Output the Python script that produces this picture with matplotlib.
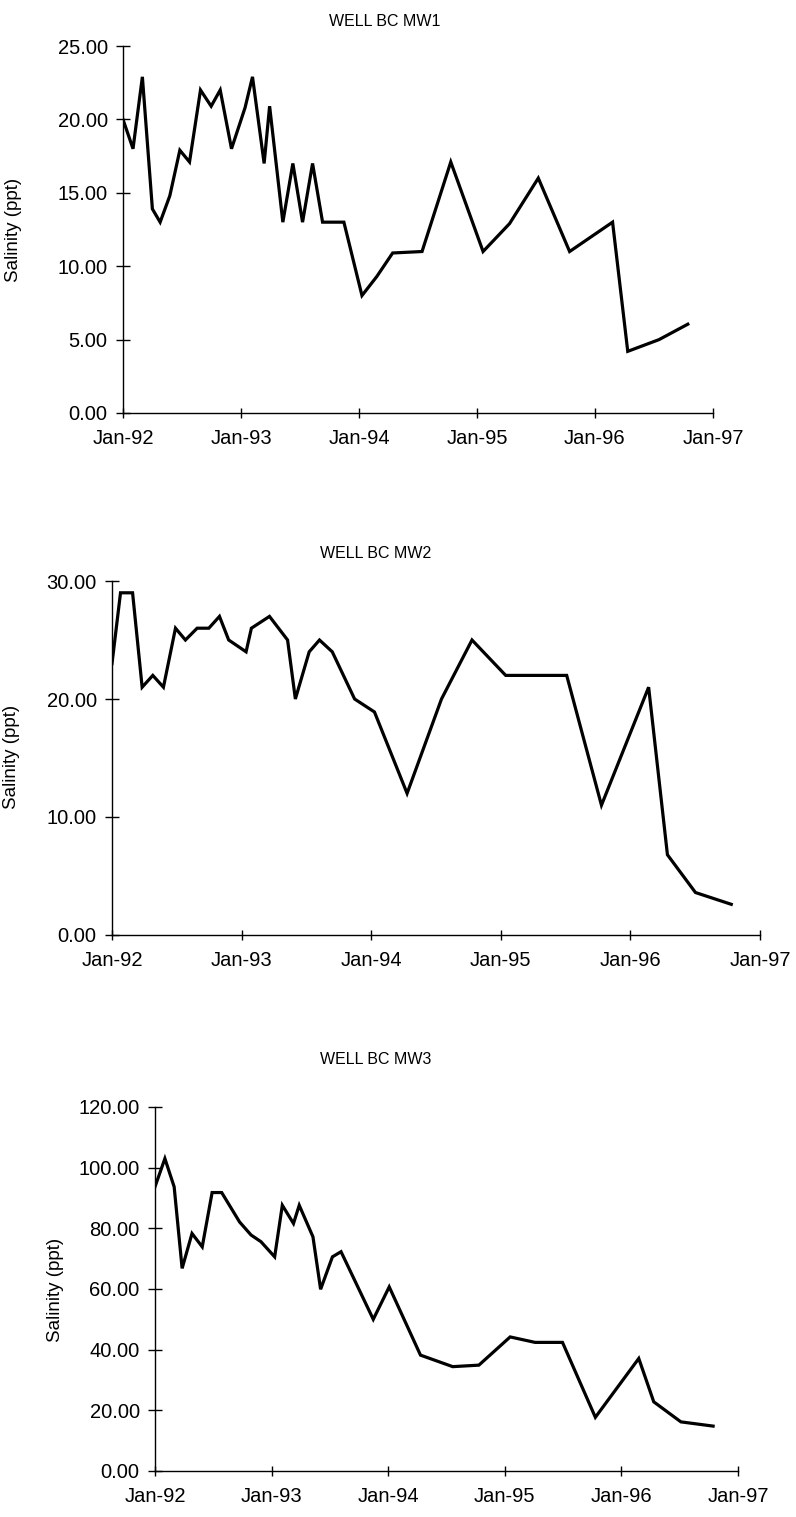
import numpy as np
import pandas as pd
import matplotlib
matplotlib.use("Agg")
import matplotlib.pyplot as plt
import matplotlib.dates as mdates
from matplotlib.ticker import FormatStrFormatter

plt.rcParams['font.family'] = ['Liberation Sans', 'DejaVu Sans']

# sampling dates and salinity (ppt)
mw1_dates = ['1992-01-01', '1992-02-01', '1992-03-01', '1992-04-01', '1992-04-25',
             '1992-05-25', '1992-06-25', '1992-07-25', '1992-08-28', '1992-09-30',
             '1992-10-28', '1992-12-02', '1993-01-13', '1993-02-05', '1993-03-13',
             '1993-03-30', '1993-05-10', '1993-06-10', '1993-07-10', '1993-08-10',
             '1993-09-10', '1993-11-15', '1994-01-10', '1994-02-25', '1994-04-15',
             '1994-07-15', '1994-10-12', '1995-01-20', '1995-04-12', '1995-07-10',
             '1995-10-15', '1996-02-25', '1996-04-12', '1996-07-18', '1996-10-15']
mw1_sal = [20.0, 18.0, 22.9, 13.9, 13.0, 14.8, 17.9, 17.1, 22.0, 20.9,
           22.0, 18.0, 20.8, 22.9, 17.0, 20.9, 13.0, 17.0, 13.0, 17.0,
           13.0, 13.0, 8.0, 9.3, 10.9, 11.0, 17.1, 11.0, 12.9, 16.0,
           11.0, 13.0, 4.2, 5.0, 6.05]

mw2_dates = ['1992-01-01', '1992-01-25', '1992-02-28', '1992-03-26', '1992-04-25',
             '1992-05-25', '1992-06-28', '1992-07-26', '1992-08-28', '1992-09-30',
             '1992-10-30', '1992-11-25', '1993-01-13', '1993-01-28', '1993-03-20',
             '1993-05-10', '1993-06-01', '1993-07-10', '1993-08-08', '1993-09-13',
             '1993-11-15', '1994-01-10', '1994-04-12', '1994-07-18', '1994-10-12',
             '1995-01-15', '1995-07-06', '1995-10-12', '1996-02-22', '1996-04-15',
             '1996-07-03', '1996-10-12']
mw2_sal = [23.0, 29.0, 29.0, 21.0, 22.0, 21.0, 26.0, 25.0, 26.0, 26.0,
           27.0, 25.0, 24.0, 26.0, 27.0, 25.0, 20.0, 24.0, 25.0, 24.0,
           20.0, 18.9, 12.0, 20.0, 25.0, 22.0, 22.0, 11.0, 21.0, 6.8,
           3.6, 2.6]

mw3_dates = ['1992-01-01', '1992-02-01', '1992-03-01', '1992-03-26', '1992-04-26',
             '1992-05-28', '1992-06-28', '1992-07-28', '1992-09-22', '1992-10-28',
             '1992-11-28', '1993-01-10', '1993-02-03', '1993-03-10', '1993-03-28',
             '1993-05-10', '1993-06-03', '1993-07-10', '1993-08-06', '1993-11-15',
             '1994-01-04', '1994-04-12', '1994-07-22', '1994-10-12', '1995-01-18',
             '1995-04-06', '1995-07-01', '1995-10-12', '1996-02-25', '1996-04-12',
             '1996-07-06', '1996-10-15']
mw3_sal = [93.7, 103.0, 93.7, 66.8, 78.3, 73.9, 91.8, 91.8, 82.1, 77.8,
           75.6, 70.6, 87.6, 81.6, 87.6, 77.2, 59.9, 70.6, 72.3, 50.0,
           60.7, 38.2, 34.4, 34.9, 44.2, 42.4, 42.4, 17.7, 37.1, 22.8,
           16.2, 14.8]

titles = ['WELL BC MW1', 'WELL BC MW2', 'WELL BC MW3']
ymax = [25, 30, 120]
ystep = [5, 10, 20]

W, H = 796, 1517
fig = plt.figure(figsize=(W / 100, H / 100), dpi=100)

# axes boxes in pixels: left, right, top, bottom
boxes = [(123, 713, 46, 413), (112, 760, 581, 935), (155, 738, 1107, 1471)]
title_pos = [(385, 22), (376, 553), (376, 1060)]
ylab_pos = [(14, 230), (12, 757), (56, 1290)]

series = [(mw1_dates, mw1_sal), (mw2_dates, mw2_sal), (mw3_dates, mw3_sal)]

for i, (d, s) in enumerate(series):
    l, r, t, b = boxes[i]
    ax = fig.add_axes([l / W, 1 - b / H, (r - l) / W, (b - t) / H])
    ax.plot(pd.to_datetime(d), s, color='black', lw=2.3, solid_joinstyle='miter')
    ax.set_xlim(pd.Timestamp('1992-01-01'), pd.Timestamp('1997-01-01'))
    ax.set_ylim(0, ymax[i])
    ax.set_yticks(np.arange(0, ymax[i] + 0.1, ystep[i]))
    ax.yaxis.set_major_formatter(FormatStrFormatter('%.2f'))
    ax.xaxis.set_major_locator(mdates.YearLocator())
    ax.xaxis.set_major_formatter(mdates.DateFormatter('%b-%y'))
    for sp in ['top', 'right']:
        ax.spines[sp].set_visible(False)
    for sp in ['left', 'bottom']:
        ax.spines[sp].set_linewidth(1.0)
    ax.tick_params(axis='y', direction='inout', length=10, width=1, labelsize=14.5, pad=6)
    ax.tick_params(axis='x', direction='inout', length=7, width=1, labelsize=14.5, pad=8)
    ax.patch.set_visible(False)
    for sp in ax.spines.values():
        sp.set_clip_on(False)

    tx, ty = title_pos[i]
    fig.text(tx / W, 1 - ty / H, titles[i], ha='center', va='center', fontsize=11.5)
    lx, ly = ylab_pos[i]
    fig.text(lx / W, 1 - ly / H, 'Salinity (ppt)', ha='center', va='center',
             rotation=90, fontsize=13.5)

fig.savefig('out.png', dpi=100, facecolor='white')
